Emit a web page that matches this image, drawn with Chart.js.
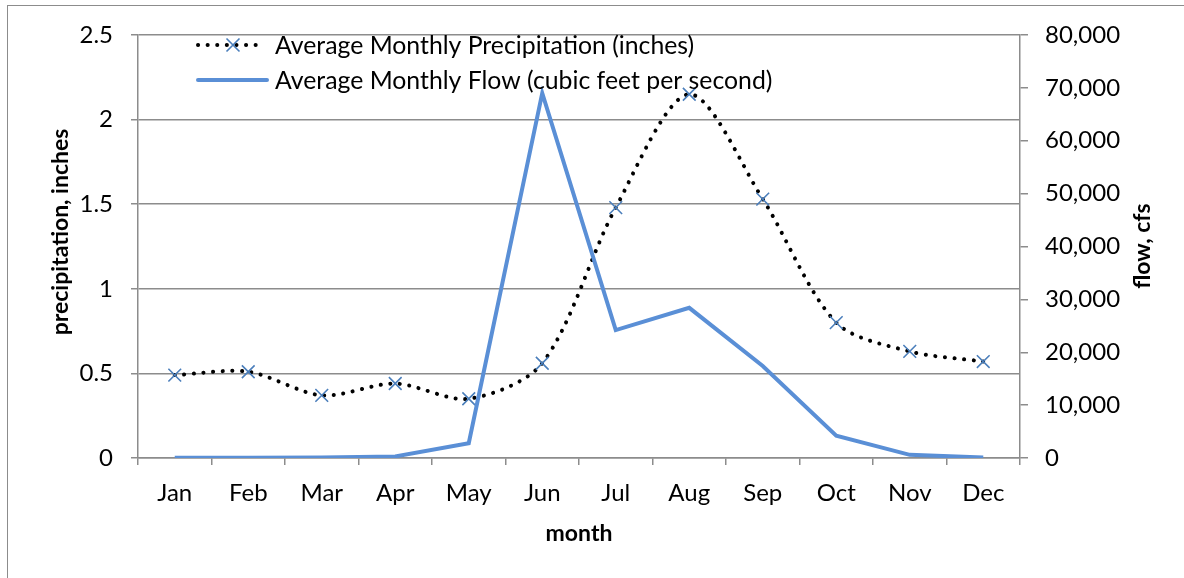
<!DOCTYPE html>
<html>
<head>
<meta charset="utf-8">
<script src="https://cdn.jsdelivr.net/npm/chart.js@4"></script>
<style>
  html,body{margin:0;padding:0;background:#fff;}
  #wrap{position:relative;width:1184px;height:578px;overflow:hidden;}
  #frame{position:absolute;left:7px;top:5px;width:1200px;height:600px;border:1.5px solid #8c8c8c;box-sizing:border-box;}
  canvas{position:absolute;left:0;top:0;}
</style>
</head>
<body>
<div id="wrap">
  <div id="frame"></div>
  <canvas id="c" width="1184" height="578"></canvas>
</div>
<script>
const months = ['Jan','Feb','Mar','Apr','May','Jun','Jul','Aug','Sep','Oct','Nov','Dec'];
const precipitation = [0.49, 0.51, 0.37, 0.44, 0.35, 0.56, 1.48, 2.15, 1.53, 0.80, 0.63, 0.57];
const flow = [50, 50, 100, 300, 2800, 69000, 24200, 28400, 17400, 4200, 600, 100];
const precipLabel = 'Average Monthly Precipitation (inches)';
const flowLabel = 'Average Monthly Flow (cubic feet per second)';
const leftTitle = 'precipitation, inches';
const rightTitle = 'flow, cfs';
const xTitle = 'month';

const FONT = 'Lato, "Open Sans", sans-serif';
const FS = 24;
const GRID = '#8c8c8c';
const FLOW_COLOR = '#5a8fd6';
const MARK_COLOR = '#4a7ebb';

const extras = {
  id: 'extras',
  afterDraw(chart) {
    const ctx = chart.ctx;
    ctx.save();
    ctx.font = 'bold 23px ' + FONT;
    ctx.fillStyle = '#000';
    ctx.textAlign = 'center';
    ctx.textBaseline = 'middle';
    ctx.save();
    ctx.translate(61, 232);
    ctx.rotate(-Math.PI/2);
    ctx.fillText(leftTitle, 0, 0);
    ctx.restore();
    ctx.save();
    ctx.translate(1143, 246);
    ctx.rotate(-Math.PI/2);
    ctx.fillText(rightTitle, 0, 0);
    ctx.restore();
    // legend
    ctx.font = '24.8px ' + FONT;
    ctx.textAlign = 'left';
    ctx.setLineDash([0.1, 9.5]);
    ctx.lineCap = 'round';
    ctx.lineWidth = 4;
    ctx.strokeStyle = '#000';
    ctx.beginPath(); ctx.moveTo(198, 45); ctx.lineTo(264, 45); ctx.stroke();
    ctx.setLineDash([]);
    ctx.strokeStyle = MARK_COLOR; ctx.lineWidth = 1.6; ctx.lineCap = 'butt';
    const mx = 233, my = 45, r = 6.5;
    ctx.beginPath();
    ctx.moveTo(mx-r, my-r); ctx.lineTo(mx+r, my+r);
    ctx.moveTo(mx+r, my-r); ctx.lineTo(mx-r, my+r);
    ctx.stroke();
    ctx.fillStyle = '#000';
    ctx.fillText(precipLabel, 275, 46);
    ctx.strokeStyle = FLOW_COLOR; ctx.lineWidth = 4; ctx.lineCap = 'round';
    ctx.beginPath(); ctx.moveTo(198, 80); ctx.lineTo(267, 80); ctx.stroke();
    ctx.fillText(flowLabel, 275, 81);
    ctx.restore();
  }
};

new Chart(document.getElementById('c'), {
  type: 'line',
  data: {
    labels: months,
    datasets: [
      {
        label: flowLabel,
        data: flow,
        yAxisID: 'yR',
        borderColor: FLOW_COLOR,
        borderWidth: 4,
        pointRadius: 0,
        tension: 0,
        fill: false,
        order: 0
      },
      {
        label: precipLabel,
        data: precipitation,
        yAxisID: 'yL',
        borderColor: '#000',
        borderWidth: 4,
        borderDash: [0.1, 9.5],
        borderCapStyle: 'round',
        tension: 0.3,
        pointStyle: 'crossRot',
        pointRadius: 9,
        pointBorderColor: MARK_COLOR,
        pointBorderWidth: 1.6,
        pointBackgroundColor: MARK_COLOR,
        fill: false,
        order: 1
      }
    ]
  },
  options: {
    responsive: false,
    animation: false,
    layout: { padding: { top: 35, left: 0, right: 0, bottom: 0 } },
    plugins: { legend: { display: false }, tooltip: { enabled: false } },
    scales: {
      x: {
        type: 'category',
        offset: true,
        grid: { offset: true, drawOnChartArea: false, drawTicks: true, tickLength: 7, color: GRID, tickColor: GRID, lineWidth: 1.5 },
        border: { color: GRID, width: 1.5 },
        ticks: { color: '#000', font: { family: FONT, size: FS }, padding: 14, maxRotation: 0 },
        title: { display: true, text: xTitle, color: '#000', font: { family: FONT, size: 23, weight: 'bold' }, padding: { top: 0, bottom: 31 } },
        afterFit(s) { s.height = 120; }
      },
      yL: {
        position: 'left',
        min: 0, max: 2.5,
        grid: { drawTicks: true, tickLength: 7, color: GRID, tickColor: GRID, lineWidth: 1.5 },
        border: { color: GRID, width: 1.5 },
        ticks: { stepSize: 0.5, color: '#000', font: { family: FONT, size: FS }, padding: 18,
          callback: v => String(v) },
        afterFit(s) { s.width = 138; }
      },
      yR: {
        position: 'right',
        min: 0, max: 80000,
        grid: { drawOnChartArea: false, drawTicks: true, tickLength: 8, color: GRID, tickColor: GRID, lineWidth: 1.5 },
        border: { color: GRID, width: 1.5 },
        ticks: { stepSize: 10000, color: '#000', font: { family: FONT, size: FS }, padding: 17,
          callback: v => v.toLocaleString('en-US') },
        afterFit(s) { s.width = 164; }
      }
    }
  },
  plugins: [extras]
});
</script>
</body>
</html>
